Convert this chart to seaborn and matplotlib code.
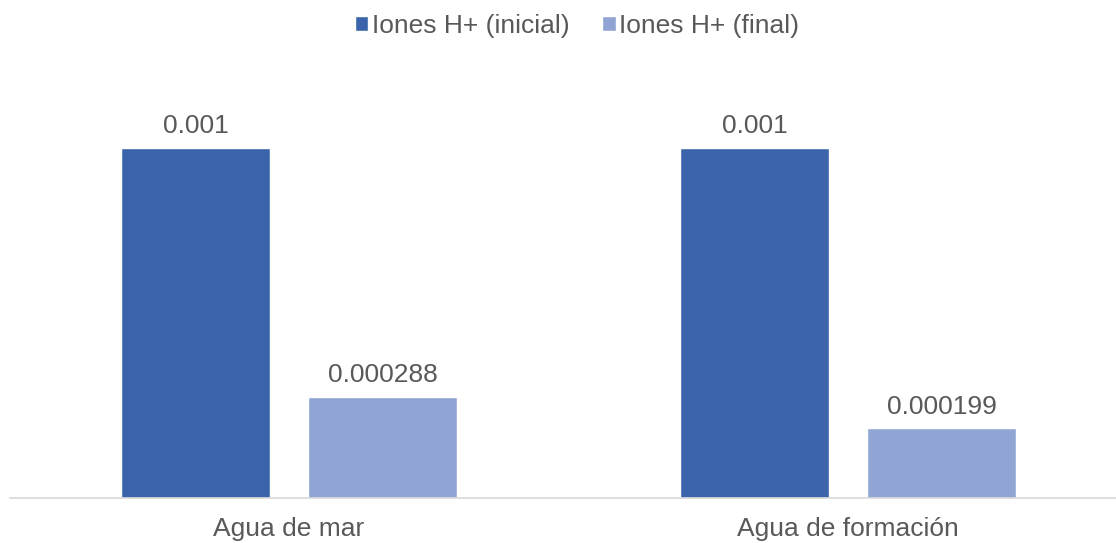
import pandas as pd
import matplotlib
matplotlib.use("Agg")
import matplotlib.pyplot as plt
import seaborn as sns

# data
categories = ["Agua de mar", "Agua de formación"]
series = ["Iones H+ (inicial)", "Iones H+ (final)"]
inicial = [0.001, 0.001]
final = [0.000288, 0.000199]
labels_inicial = ["0.001", "0.001"]
labels_final = ["0.000288", "0.000199"]

df = pd.DataFrame({
    "categoria": categories * 2,
    "serie": [series[0]] * 2 + [series[1]] * 2,
    "valor": inicial + final,
})

sns.set_style("white")
plt.rcParams["font.family"] = ["Liberation Sans", "DejaVu Sans"]

fig = plt.figure(figsize=(11.16, 5.43), dpi=100)
ax = fig.add_axes([9.5 / 1116, 45 / 543, 1118 / 1116, 1 - 45 / 543 - 78 / 543])

sns.barplot(
    data=df, x="categoria", y="valor", hue="serie",
    palette=["#3C64AA", "#91A5D4"], width=0.669, gap=0.203,
    saturation=1, ax=ax,
)

text_color = "#595959"
fs = 19
for cont, labs in zip(ax.containers, [labels_inicial, labels_final]):
    ax.bar_label(cont, labels=labs, padding=7, fontsize=fs, color=text_color)

ax.set_ylim(0, 0.0012)
ax.set_xlim(-0.5, 1.5)
ax.set_yticks([])
ax.set_xlabel("")
ax.set_ylabel("")
ax.tick_params(axis="x", length=0, labelsize=fs, labelcolor=text_color, pad=14)
for s in ["top", "right", "left"]:
    ax.spines[s].set_visible(False)
ax.spines["bottom"].set_color("#D9D9D9")
ax.spines["bottom"].set_linewidth(1.2)

leg = fig.legend(
    *ax.get_legend_handles_labels(),
    loc="center", bbox_to_anchor=(577 / 1116, 1 - 26 / 543),
    ncol=2, frameon=False, fontsize=fs, handlelength=0.5, handleheight=0.5,
    handletextpad=0.15, columnspacing=1.25, borderpad=0,
)
ax.get_legend().remove()
for t in leg.get_texts():
    t.set_color(text_color)

fig.savefig("out.png", dpi=100)
